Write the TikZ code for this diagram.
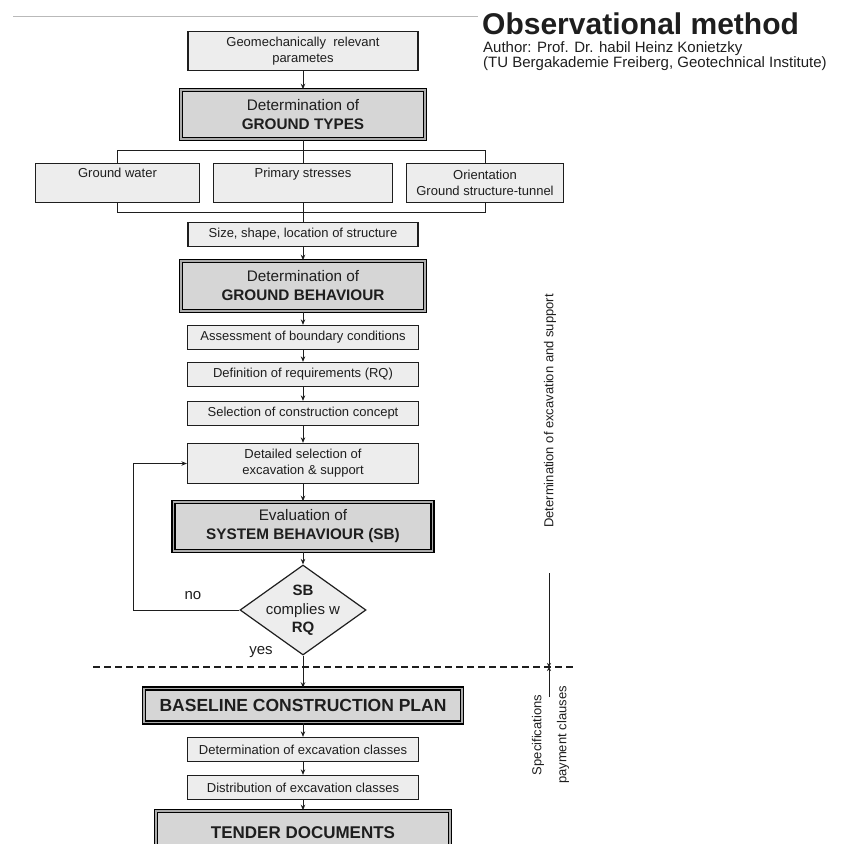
\documentclass[tikz,border=0pt]{standalone}
\usepackage{fontspec}
\setmainfont{Liberation Sans}
\usetikzlibrary{shapes.geometric,arrows.meta}
\definecolor{ink}{HTML}{1E1E1E}
\definecolor{boxfill}{HTML}{EDEDED}
\definecolor{keyfill}{HTML}{D6D6D6}
\newcommand{\fs}[1]{\fontsize{#1}{#1}\selectfont}
\tikzset{
  thinbox/.style={rectangle, draw=ink, line width=1.3pt, fill=boxfill,
    text=ink, align=center, inner sep=0pt, font=\fontsize{13}{16}\selectfont},
  keybox/.style={rectangle, draw=black, line width=1.6pt, double=gray!65,
    double distance=1.6pt, fill=keyfill, text=ink, align=center, inner sep=0pt,
    font=\fontsize{15.3}{19}\selectfont},
  link/.style={draw=ink, line width=0.9pt},
  flow/.style={link, -{Stealth[length=5.5pt,width=4.5pt]}},
  note/.style={text=ink, inner sep=0pt}
}
\begin{document}
\begin{tikzpicture}[x=1pt,y=-1pt]
\useasboundingbox (0,0) rectangle (842,844);

% header
\draw[gray!55, line width=1pt] (13,16) -- (478,16);
\node[note, anchor=base west, text depth=0pt, font=\bfseries\fs{30}] (title) at (482,34) {Observational method};
\node[note, anchor=base west, font=\fs{15}] (auth) at (483,52.5) {Author: Prof. Dr. habil Heinz Konietzky};
\node[note, anchor=base west, font=\fs{15}] (inst) at (483,67) {(TU Bergakademie Freiberg, Geotechnical Institute)};

% ground model
\node[thinbox, minimum width=230, minimum height=39] (geo) at (303,51)
  {Geomechanically\ \ relevant\\parametes};
\node[keybox, minimum width=244, minimum height=49] (gtypes) at (303,114.5)
  {Determination of\\\textbf{GROUND TYPES}};

\node[thinbox, minimum width=164, minimum height=39] (gw) at (117.5,183)
  {Ground water\\\strut};
\node[thinbox, minimum width=179, minimum height=39] (ps) at (303,183)
  {Primary stresses\\\strut};
\node[thinbox, minimum width=157, minimum height=39] (ori) at (485,183)
  {Orientation\\Ground structure-tunnel};

\node[thinbox, minimum width=230, minimum height=24] (size) at (303,234.5)
  {Size, shape, location of structure};
\node[keybox, minimum width=244, minimum height=50] (gbeh) at (303,286)
  {Determination of\\\textbf{GROUND BEHAVIOUR}};

\node[thinbox, minimum width=231, minimum height=24] (assess) at (303,337.5)
  {Assessment of boundary conditions};
\node[thinbox, minimum width=231, minimum height=24] (req) at (303,374.5)
  {Definition of requirements (RQ)};
\node[thinbox, minimum width=231, minimum height=24] (concept) at (303,413.5)
  {Selection of construction concept};
\node[thinbox, minimum width=231, minimum height=40] (detail) at (303,463.5)
  {Detailed selection of\\excavation \& support};
\node[keybox, minimum width=259, minimum height=49] (sysb) at (303,526.5)
  {Evaluation of\\\textbf{SYSTEM BEHAVIOUR (SB)}};

\node[diamond, draw=ink, line width=1.2pt, fill=boxfill, minimum width=126,
  minimum height=90, inner sep=0pt] (check) at (303,610) {};
\node[note, align=center, font=\fontsize{15}{18.5}\selectfont] (checktext) at (303,610.5)
  {\textbf{SB}\\complies w\\\textbf{RQ}};

% contract documents
\node[keybox, minimum width=318, minimum height=34, font=\bfseries\fs{17.5}] (plan) at (303,705.5)
  {BASELINE CONSTRUCTION PLAN};
\node[thinbox, minimum width=231, minimum height=24] (classdet) at (303,749.5)
  {Determination of excavation classes};
\node[thinbox, minimum width=231, minimum height=24] (classdist) at (303,787.5)
  {Distribution of excavation classes};
\node[keybox, minimum width=294, minimum height=44, font=\bfseries\fs{17}] (tender) at (303,833)
  {TENDER DOCUMENTS};

% connectors
\draw[flow] (geo) -- (gtypes);
\draw[link] (gtypes) -- (ps);
\draw[link] (gw.north) -- ++(0,-12) -| (ori.north);
\draw[link] (gw.south) -- ++(0,9) -| (ori.south);
\draw[link] (ps) -- (size);
\draw[flow] (size) -- (gbeh);
\draw[flow] (gbeh) -- (assess);
\draw[flow] (assess) -- (req);
\draw[flow] (req) -- (concept);
\draw[flow] (concept) -- (detail);
\draw[flow] (detail) -- (sysb);
\draw[flow] (sysb) -- (check);
\draw[flow] (check.west) -- ++(-106,0) |- (detail.west);
\node[note, font=\fs{15}] (no) at (193,596) {no};
\draw[flow] (check.south) -- (plan.north);
\node[note, font=\fs{15}] (yes) at (261,652) {yes};
\draw[flow] (plan) -- (classdet);
\draw[flow] (classdet) -- (classdist);
\draw[flow] (classdist) -- (tender);

% tender boundary
\coordinate (dashL) at (93,667);
\coordinate (dashR) at (575,667);
\draw[ink, line width=1.6pt, dash pattern=on 6.5pt off 4.5pt] (dashL) -- (dashR);

% side annotations
\node[note, rotate=90, font=\fs{13}] (exsup) at (550,411) {Determination of excavation and support};
\coordinate (barTop) at (549,573);
\coordinate (barMid) at (549,667);
\coordinate (barBot) at (549,697);
\draw[link, -{Stealth[length=4pt,width=4pt]}] (barTop) -- (barMid);
\draw[link, -{Stealth[length=4pt,width=4pt]}] (barBot) -- (barMid);
\node[note, rotate=90, font=\fs{13}] (spec) at (538,735) {Specifications};
\node[note, rotate=90, font=\fs{13}] (pay) at (563,735) {payment clauses};
\end{tikzpicture}
\end{document}
